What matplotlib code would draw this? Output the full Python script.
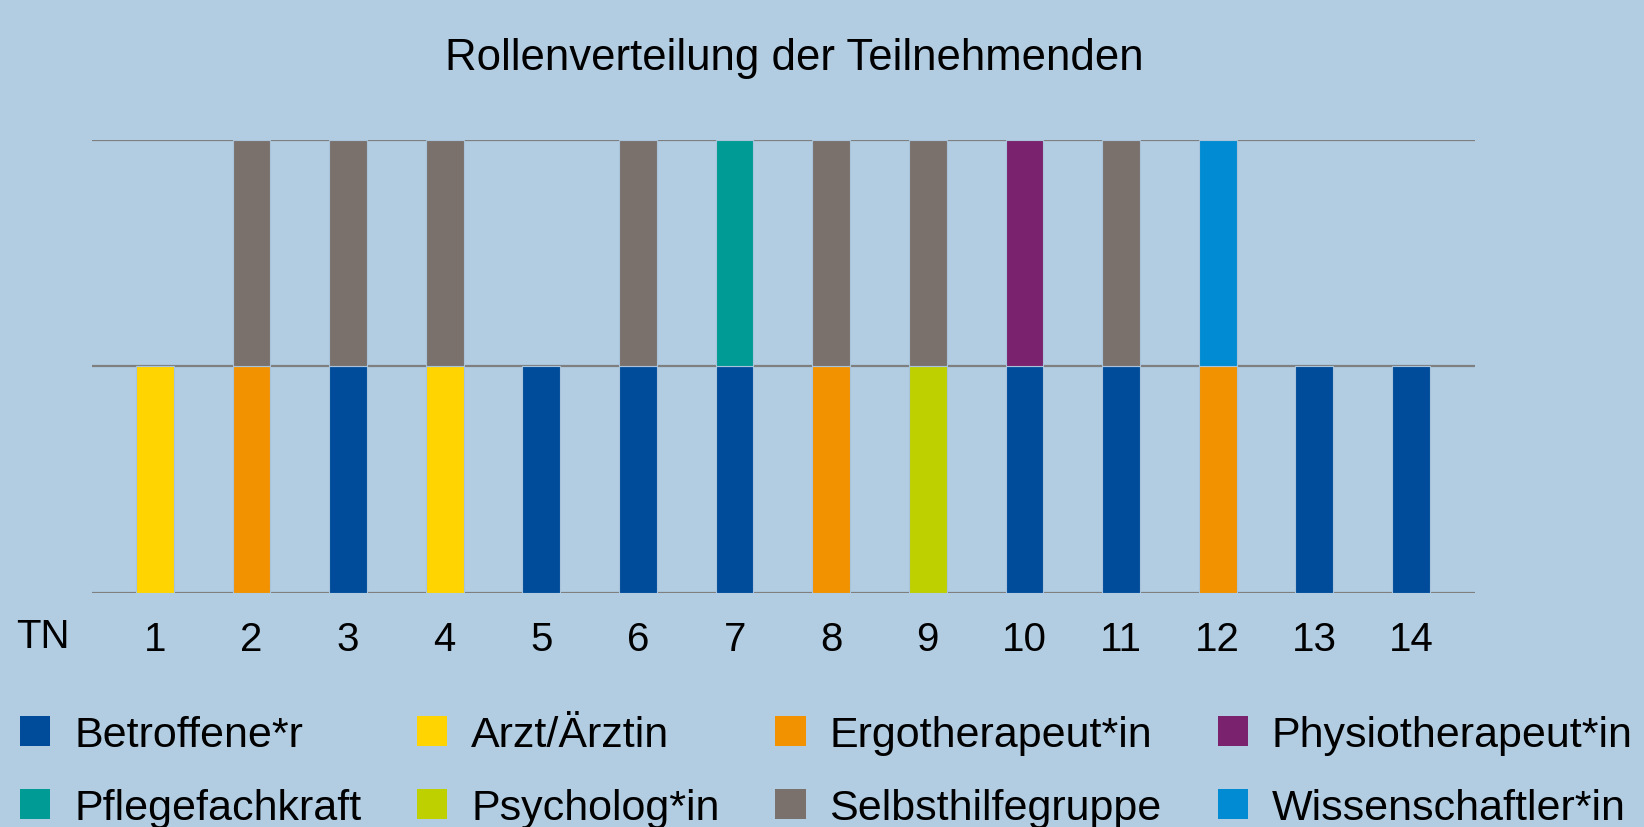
import numpy as np
import matplotlib
matplotlib.use("Agg")
import matplotlib.pyplot as plt
from matplotlib.patches import Patch

plt.rcParams['font.family'] = ['Liberation Sans Narrow', 'Liberation Sans', 'DejaVu Sans']

# Data
participants = list(range(1, 15))
role_bottom = ["Arzt/Ärztin", "Ergotherapeut*in", "Betroffene*r", "Arzt/Ärztin",
               "Betroffene*r", "Betroffene*r", "Betroffene*r", "Ergotherapeut*in",
               "Psycholog*in", "Betroffene*r", "Betroffene*r", "Ergotherapeut*in",
               "Betroffene*r", "Betroffene*r"]
role_top = [None, "Selbsthilfegruppe", "Selbsthilfegruppe", "Selbsthilfegruppe",
            None, "Selbsthilfegruppe", "Pflegefachkraft", "Selbsthilfegruppe",
            "Selbsthilfegruppe", "Physiotherapeut*in", "Selbsthilfegruppe",
            "Wissenschaftler*in", None, None]

roles = ["Betroffene*r", "Arzt/Ärztin", "Ergotherapeut*in", "Physiotherapeut*in",
         "Pflegefachkraft", "Psycholog*in", "Selbsthilfegruppe", "Wissenschaftler*in"]
role_colors = {
    "Betroffene*r": "#004c9b",
    "Arzt/Ärztin": "#ffd400",
    "Ergotherapeut*in": "#f39200",
    "Physiotherapeut*in": "#7b226e",
    "Pflegefachkraft": "#009b94",
    "Psycholog*in": "#bed000",
    "Selbsthilfegruppe": "#7a716d",
    "Wissenschaftler*in": "#008bd2",
}

bg = "#b2cde2"

fig = plt.figure(figsize=(16.44, 8.28), dpi=100, facecolor=bg)
ax = fig.add_axes([0.056, 0.283, 0.841, 0.547])
ax.set_facecolor(bg)

w = 0.39
for x, rb, rt in zip(participants, role_bottom, role_top):
    ax.bar(x, 1, width=w, color=role_colors[rb], edgecolor="#a9c4da", linewidth=0.8, zorder=3)
    if rt is not None:
        ax.bar(x, 1, bottom=1, width=w, color=role_colors[rt], edgecolor="#a9c4da",
               linewidth=0.8, zorder=3)

ax.set_xlim(0.35, 14.66)
ax.set_ylim(0, 2)
ax.set_yticks([0, 1, 2])
ax.set_yticklabels([])
ax.grid(axis="y", color="#7f7f7f", linewidth=1.6, zorder=2)
ax.set_axisbelow(False)
for s in ax.spines.values():
    s.set_visible(False)
ax.tick_params(axis="both", length=0)
ax.set_xticks(participants)
ax.set_xticklabels([str(p) for p in participants], fontsize=29)
ax.tick_params(axis="x", pad=20)

fig.text(0.026, 0.231, "TN", fontsize=29, ha="center", va="center")
fig.text(0.483, 0.929, "Rollenverteilung der Teilnehmenden", fontsize=31.5,
         ha="center", va="center")

# legend, column-major order so rows read left to right
order = [0, 4, 1, 5, 2, 6, 3, 7]
handles = [Patch(facecolor=role_colors[roles[i]], label=roles[i]) for i in order]
leg = fig.legend(handles=handles, ncol=4, loc="upper left",
                 bbox_to_anchor=(-0.006, 0.172), frameon=False, fontsize=31,
                 handlelength=0.7, handleheight=0.7, handletextpad=0.55,
                 columnspacing=1.3, labelspacing=0.78, borderpad=0.2)

fig.savefig("out.png", dpi=100, facecolor=bg)
